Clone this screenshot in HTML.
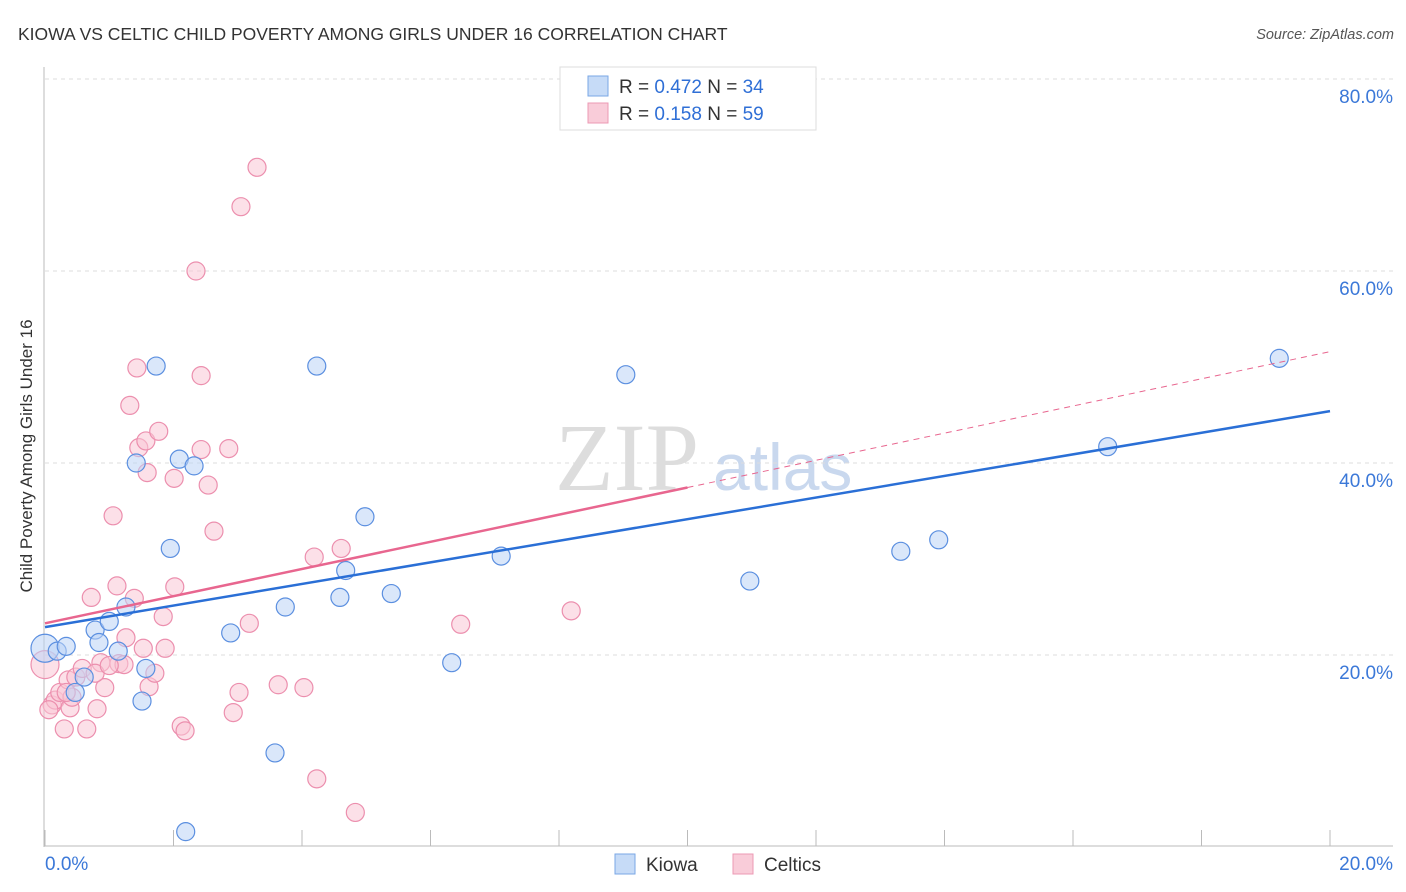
<!DOCTYPE html>
<html><head><meta charset="utf-8"><style>
body{margin:0;background:#fff;font-family:"Liberation Sans",sans-serif}
</style></head><body>
<svg id="c" width="1406" height="892" xmlns="http://www.w3.org/2000/svg" style="display:block">
<text x="18" y="40" font-size="17.5" fill="#333">KIOWA VS CELTIC CHILD POVERTY AMONG GIRLS UNDER 16 CORRELATION CHART</text>
<text x="1394" y="39" font-size="14.5" fill="#555" font-style="italic" text-anchor="end">Source: ZipAtlas.com</text>
<text x="32" y="456" font-size="17" fill="#333" text-anchor="middle" transform="rotate(-90 32 456)">Child Poverty Among Girls Under 16</text>
<g><text x="555" y="490" font-size="96" fill="#ddd" font-family="Liberation Serif,serif">ZIP</text><text x="713" y="490" font-size="66" fill="#c9d8ee">atlas</text></g>
<g id="grid"></g><g id="axes"></g><g id="pts"></g><g id="lines"></g>
<g>
<rect x="560" y="67" width="256" height="63" fill="#fff" stroke="#ddd"/>
<rect x="588" y="76" width="20" height="20" fill="#c6dbf7" stroke="#7aa7e6"/>
<rect x="588" y="103" width="20" height="20" fill="#f9ccd9" stroke="#ec9ab4"/>
<text x="619" y="93" font-size="19" fill="#333">R = <tspan fill="#2f6fd6">0.472</tspan>    N = <tspan fill="#2f6fd6">34</tspan></text>
<text x="619" y="120" font-size="19" fill="#333">R =  <tspan fill="#2f6fd6">0.158</tspan>    N = <tspan fill="#2f6fd6">59</tspan></text>
</g>
<g>
<rect x="615" y="854" width="20" height="20" fill="#c6dbf7" stroke="#7aa7e6"/>
<text x="646" y="871" font-size="19" fill="#333">Kiowa</text>
<rect x="733" y="854" width="20" height="20" fill="#f9ccd9" stroke="#ec9ab4"/>
<text x="764" y="871" font-size="19" fill="#333">Celtics</text>
</g>
</svg>
<script>
const xTickLabels=["0.0%","20.0%"];
const yTicks=[20,40,60,80];
const kiowaX=[0,0.19,0.33,0.61,0.47,0.78,0.84,1.00,1.14,1.26,1.42,1.51,1.57,1.73,1.95,2.09,2.19,2.32,2.89,3.58,3.74,4.23,4.59,4.68,4.98,5.39,6.33,7.10,9.04,10.97,13.32,13.91,16.54,19.21];
const kiowaY=[20.7,20.4,20.9,17.7,16.1,22.6,21.3,23.5,20.4,25.0,40.0,15.2,18.6,50.1,31.1,40.4,1.6,39.7,22.3,9.8,25.0,50.1,26.0,28.8,34.4,26.4,19.2,30.3,49.2,27.7,30.8,32.0,41.7,50.9];
const celticsX=[0,0.11,0.16,0.23,0.30,0.36,0.39,0.42,0.48,0.58,0.65,0.72,0.81,0.87,0.93,1.06,1.12,1.15,1.23,1.26,1.39,1.43,1.46,1.57,1.59,1.32,1.62,1.71,1.77,1.84,1.87,2.01,2.02,2.12,2.18,2.35,2.43,2.43,2.54,2.63,2.86,2.93,3.02,3.05,3.18,3.30,3.63,4.03,4.19,4.23,4.61,4.83,6.47,8.19,0.06,0.78,1.00,1.53,0.33];
const celticsY=[19.0,14.8,15.3,16.1,12.3,17.4,14.5,15.6,17.7,18.6,12.3,26.0,14.4,19.2,16.6,34.5,27.2,19.1,19.0,21.8,25.9,49.9,41.6,42.3,39.0,46.0,16.7,18.1,43.3,24.0,20.7,38.4,27.1,12.6,12.1,60.0,49.1,41.4,37.7,32.9,41.5,14.0,16.1,66.7,23.3,70.8,16.9,16.6,30.2,7.1,31.1,3.6,23.2,24.6,14.3,18.1,18.9,20.7,16.1];
const kiowaTrend=[22.9,45.4];
const celticsTrend=[23.3,51.6];
const NS="http://www.w3.org/2000/svg";
const X=v=>45+v*64.25, Y=v=>847-v*9.6;
function mk(t,a,p){const e=document.createElementNS(NS,t);for(const k in a)e.setAttribute(k,a[k]);p.appendChild(e);return e;}
const grid=document.getElementById('grid'),axes=document.getElementById('axes'),pts=document.getElementById('pts'),lines=document.getElementById('lines');
yTicks.forEach(v=>{
 const l=mk('line',{x1:45,x2:1393,y1:Y(v),y2:Y(v),stroke:'#ddd','stroke-dasharray':'4 4'},grid);
 
 
 const t=mk('text',{x:1393,y:Y(v)+24,'font-size':19,fill:'#3b78d8','text-anchor':'end'},grid);t.textContent=v.toFixed(1)+'%';
 
 
});
const ax=mk('line',{x1:44,x2:44,y1:67,y2:847,stroke:'#bbb'},axes);


const bx=mk('line',{x1:44,x2:1393,y1:846,y2:846,stroke:'#bbb'},axes);


for(let i=0;i<=10;i++){const t=mk('line',{x1:X(i*2),x2:X(i*2),y1:830,y2:846,stroke:'#bbb'},axes);
 
 }
[[0,'start',45],[20,'end',1393]].forEach((d,i)=>{const t=mk('text',{x:d[2],y:870,'font-size':19,fill:'#3b78d8','text-anchor':d[1]},axes);t.textContent=xTickLabels[i];
 
 });
function dots(xs,ys,f,s,name){xs.forEach((x,i)=>{const c=mk('circle',{cx:X(x),cy:Y(ys[i]),r:(x===0?14:9),fill:f,'fill-opacity':0.55,stroke:s,'stroke-width':1.2},pts);
 
 });}
dots(celticsX,celticsY,'#f9c6d6','#ec8fae','celtics-point');
dots(kiowaX,kiowaY,'#bcd4f5','#5b8fe0','kiowa-point');
const kl=mk('line',{x1:X(0),x2:X(20),y1:Y(kiowaTrend[0]),y2:Y(kiowaTrend[1]),stroke:'#2a6fd6','stroke-width':2.5},lines);


const cm=celticsTrend[0]+(celticsTrend[1]-celticsTrend[0])*0.5;
const cl=mk('line',{x1:X(0),x2:X(10),y1:Y(celticsTrend[0]),y2:Y(cm),stroke:'#e8668f','stroke-width':2.5},lines);


const cd=mk('line',{x1:X(10),x2:X(20),y1:Y(cm),y2:Y(celticsTrend[1]),stroke:'#e8668f','stroke-width':1,'stroke-dasharray':'6 5'},lines);


</script>
</body></html>
